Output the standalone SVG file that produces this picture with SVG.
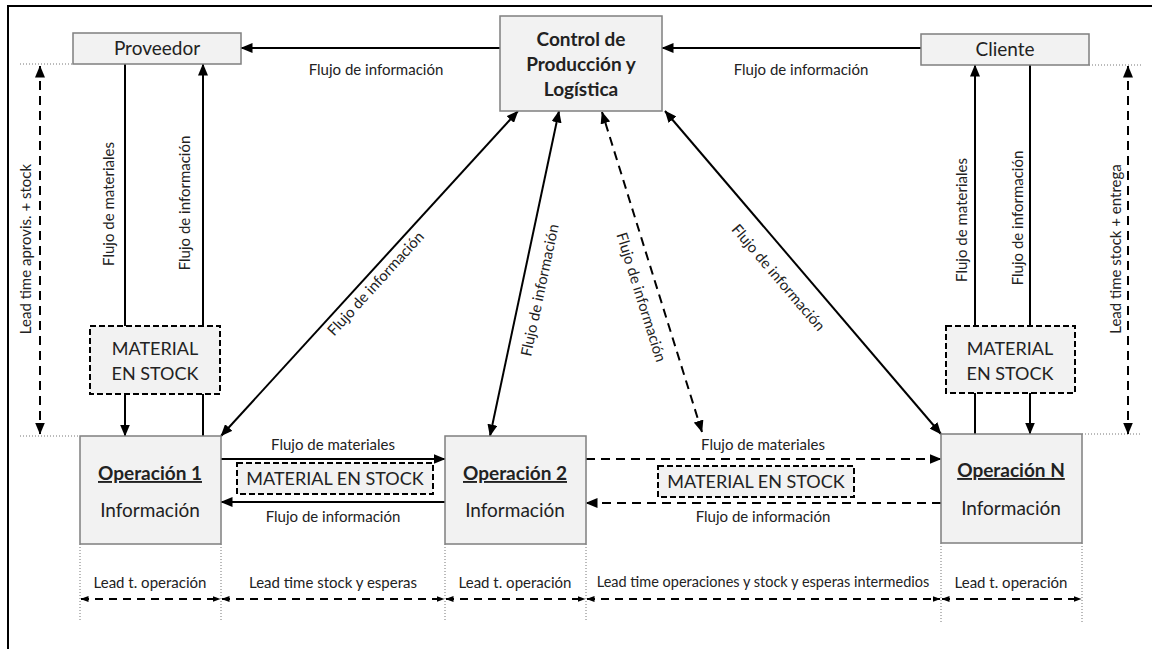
<svg xmlns="http://www.w3.org/2000/svg" width="1152" height="649" viewBox="0 0 1152 649">
<style>
text{font-family:Lato,"Open Sans","Liberation Sans",sans-serif;fill:#222;}
.sm{font-size:15px;}
.big{font-size:19px;}
.stk{font-size:18px;}
.bold{font-weight:bold;}
.box{fill:#f2f2f2;stroke:#7f7f7f;stroke-width:1.5;}
.stock{fill:#f2f2f2;stroke:#000;stroke-width:2;stroke-dasharray:6 3;}
.ln{fill:none;stroke:#000;stroke-width:2;}
.dash{fill:none;stroke:#000;stroke-width:2;stroke-dasharray:9 6;}
.lt{fill:none;stroke:#000;stroke-width:2;stroke-dasharray:8 6;}
.dot{fill:none;stroke:#777;stroke-width:1;stroke-dasharray:1 2;}
</style>
<defs>
<marker id="ah" viewBox="0 0 12 10" refX="11.5" refY="5" markerWidth="12" markerHeight="10" markerUnits="userSpaceOnUse" orient="auto-start-reverse"><path d="M0,0 L12,5 L0,10 z" fill="#000"/></marker>
<marker id="sa" viewBox="0 0 8 6" refX="7.5" refY="3" markerWidth="8" markerHeight="6" markerUnits="userSpaceOnUse" orient="auto-start-reverse"><path d="M0,0 L8,3 L0,6 z" fill="#000"/></marker>
</defs>
<rect width="1152" height="649" fill="#fff"/>
<g id="frame"><path d="M7,6 H1152 M8,6 V649" class="ln"/></g>

<g id="guides">
<path class="dot" d="M20,64 H73 M1089,65 H1142 M20,436 H80 M1082,434 H1142"/>
<path class="dot" d="M80,544 V622 M221,544 V622 M445,544 V622 M586,544 V622 M941,543 V622 M1082,543 V622"/>
</g>

<g id="connectors">
<path class="ln" marker-end="url(#ah)" d="M500,48 H241"/>
<path class="ln" marker-end="url(#ah)" d="M921,48 H662"/>
<path class="ln" marker-start="url(#ah)" marker-end="url(#ah)" d="M221,436 L518,111"/>
<path class="ln" marker-start="url(#ah)" marker-end="url(#ah)" d="M490,436 L559,111"/>
<path class="dash" marker-start="url(#ah)" marker-end="url(#ah)" d="M702,432 L602,112"/>
<path class="ln" marker-start="url(#ah)" marker-end="url(#ah)" d="M941,434 L665,111"/>
<path class="ln" marker-end="url(#ah)" d="M221,459 H445"/>
<path class="ln" marker-end="url(#ah)" d="M445,502 H221"/>
<path class="dash" marker-end="url(#ah)" d="M586,459 H941"/>
<path class="dash" marker-end="url(#ah)" d="M941,503 H586"/>
<path class="ln" d="M125,64 V326"/>
<path class="ln" marker-end="url(#ah)" d="M125,394 V436"/>
<path class="ln" d="M203,436 V394"/>
<path class="ln" marker-end="url(#ah)" d="M203,326 V64"/>
<path class="ln" d="M975,434 V393"/>
<path class="ln" marker-end="url(#ah)" d="M975,326 V65"/>
<path class="ln" d="M1030,65 V326"/>
<path class="ln" marker-end="url(#ah)" d="M1030,393 V434"/>
<path class="dash" marker-start="url(#ah)" marker-end="url(#ah)" d="M40,66 V434"/>
<path class="dash" marker-start="url(#ah)" marker-end="url(#ah)" d="M1128,66 V434"/>
<path class="lt" marker-start="url(#sa)" marker-end="url(#sa)" d="M81,599 H220"/>
<path class="lt" marker-start="url(#sa)" marker-end="url(#sa)" d="M222,599 H444"/>
<path class="lt" marker-start="url(#sa)" marker-end="url(#sa)" d="M446,599 H585"/>
<path class="lt" marker-start="url(#sa)" marker-end="url(#sa)" d="M587,599 H940"/>
<path class="lt" marker-start="url(#sa)" marker-end="url(#sa)" d="M942,599 H1081"/>
</g>

<g id="labels">
<text class="sm" x="376" y="75" text-anchor="middle">Flujo de información</text>
<text class="sm" x="801" y="75" text-anchor="middle">Flujo de información</text>
<text class="sm" text-anchor="middle" dominant-baseline="central" transform="translate(108,204) rotate(-90)">Flujo de materiales</text>
<text class="sm" text-anchor="middle" dominant-baseline="central" transform="translate(184,203) rotate(-90)">Flujo de información</text>
<text class="sm" text-anchor="middle" dominant-baseline="central" transform="translate(25,249) rotate(-90)">Lead time aprovis. + stock</text>
<text class="sm" text-anchor="middle" dominant-baseline="central" transform="translate(961,220) rotate(-90)">Flujo de materiales</text>
<text class="sm" text-anchor="middle" dominant-baseline="central" transform="translate(1017,218) rotate(-90)">Flujo de información</text>
<text class="sm" text-anchor="middle" dominant-baseline="central" transform="translate(1115,249) rotate(-90)">Lead time stock + entrega</text>
<text class="sm" text-anchor="middle" dominant-baseline="central" transform="translate(375,283) rotate(-47.6)">Flujo de información</text>
<text class="sm" text-anchor="middle" dominant-baseline="central" transform="translate(539,290) rotate(-78)">Flujo de información</text>
<text class="sm" text-anchor="middle" dominant-baseline="central" transform="translate(642,297) rotate(72.6)">Flujo de información</text>
<text class="sm" text-anchor="middle" dominant-baseline="central" transform="translate(779,277) rotate(49.5)">Flujo de información</text>
<text class="sm" x="333" y="450" text-anchor="middle">Flujo de materiales</text>
<text class="sm" x="333" y="522" text-anchor="middle">Flujo de información</text>
<text class="sm" x="763" y="450" text-anchor="middle">Flujo de materiales</text>
<text class="sm" x="763" y="522" text-anchor="middle">Flujo de información</text>
<text class="sm" x="150" y="588" text-anchor="middle">Lead t. operación</text>
<text class="sm" x="333" y="588" text-anchor="middle">Lead time stock y esperas</text>
<text class="sm" x="515" y="588" text-anchor="middle">Lead t. operación</text>
<text class="sm" x="763" y="587" text-anchor="middle" style="font-size:14.5px">Lead time operaciones y stock y esperas intermedios</text>
<text class="sm" x="1011" y="588" text-anchor="middle">Lead t. operación</text>
</g>

<g id="proveedor">
<rect class="box" x="73" y="33" width="168" height="31"/>
<text class="big" x="157" y="55" text-anchor="middle">Proveedor</text>
</g>
<g id="control">
<rect class="box" x="500" y="16" width="162" height="95"/>
<text class="big bold" x="581" y="46" text-anchor="middle">Control de</text>
<text class="big bold" x="581" y="71" text-anchor="middle">Producción y</text>
<text class="big bold" x="581" y="96" text-anchor="middle">Logística</text>
</g>
<g id="cliente">
<rect class="box" x="921" y="34" width="168" height="31"/>
<text class="big" x="1005" y="56" text-anchor="middle">Cliente</text>
</g>
<g id="stock-prov">
<rect class="stock" x="90" y="326" width="130" height="68"/>
<text class="stk" x="155" y="355" text-anchor="middle">MATERIAL</text>
<text class="stk" x="155" y="380" text-anchor="middle">EN STOCK</text>
</g>
<g id="stock-cli">
<rect class="stock" x="946" y="326" width="129" height="67"/>
<text class="stk" x="1010" y="355" text-anchor="middle">MATERIAL</text>
<text class="stk" x="1010" y="380" text-anchor="middle">EN STOCK</text>
</g>
<g id="stock-12">
<rect class="stock" x="237" y="463" width="196" height="31"/>
<text class="stk" x="335" y="485" text-anchor="middle">MATERIAL EN STOCK</text>
</g>
<g id="stock-2n">
<rect class="stock" x="658" y="466" width="196" height="31"/>
<text class="stk" x="756" y="488" text-anchor="middle">MATERIAL EN STOCK</text>
</g>
<g id="op1">
<rect class="box" x="80" y="436" width="141" height="108"/>
<text class="big bold" x="150" y="480" text-anchor="middle" text-decoration="underline">Operación 1</text>
<text class="big" x="150" y="517" text-anchor="middle">Información</text>
</g>
<g id="op2">
<rect class="box" x="445" y="436" width="141" height="108"/>
<text class="big bold" x="515" y="480" text-anchor="middle" text-decoration="underline">Operación 2</text>
<text class="big" x="515" y="517" text-anchor="middle">Información</text>
</g>
<g id="opN">
<rect class="box" x="941" y="434" width="141" height="109"/>
<text class="big bold" x="1011" y="477" text-anchor="middle" text-decoration="underline">Operación N</text>
<text class="big" x="1011" y="515" text-anchor="middle">Información</text>
</g>
</svg>
